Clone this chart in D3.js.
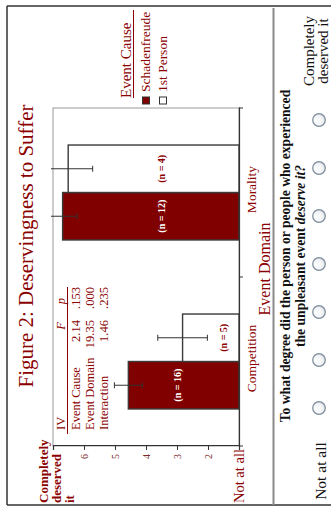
<!DOCTYPE html>
<html>
<head>
<meta charset="utf-8">
<script src="https://cdn.jsdelivr.net/npm/d3@7"></script>
<style>
  html, body { margin: 0; padding: 0; background: #fff; }
  svg { display: block; }
  text { font-family: "Liberation Serif", "Times New Roman", serif; }
</style>
</head>
<body>
<svg id="chart" width="331" height="508"></svg>
<script>
// ---- data ----
const domains = ["Competition", "Morality"];
const causes = ["Schadenfreude", "1st Person"];
const schadenfreudeMeans = [4.57, 6.69];
const firstPersonMeans = [2.82, 6.51];
const schadenfreudeSE = [0.45, 0.46];
const firstPersonSE = [0.80, 0.79];
const schadenfreudeN = [16, 12];
const firstPersonN = [5, 4];
const ratingValues = [1, 2, 3, 4, 5, 6, 7];
const ratingTickLabels = ["", "2", "3", "4", "5", "6", ""];
const anovaIV = ["Event Cause", "Event Domain", "Interaction"];
const anovaF = ["2.14", "19.35", "1.46"];
const anovaP = [".153", ".000", ".235"];
const scaleOptions = [1, 2, 3, 4, 5, 6, 7];

const RED = "#8b0000";
const BAR = "#800000";

const rows = [];
domains.forEach((d, i) => {
  rows.push({ domain: d, cause: causes[0], mean: schadenfreudeMeans[i], se: schadenfreudeSE[i], n: schadenfreudeN[i] });
  rows.push({ domain: d, cause: causes[1], mean: firstPersonMeans[i], se: firstPersonSE[i], n: firstPersonN[i] });
});

// The page is laid out sideways: a 508 x 331 landscape drawing turned a quarter turn.
const svg = d3.select("#chart");
const g = svg.append("g").attr("transform", "translate(0,508) rotate(-90)");

// ---- outer frame and divider ----
const frame = g.append("g").attr("stroke", "#333").attr("stroke-width", 1.5).attr("fill", "none");
frame.append("line").attr("x1", 3).attr("x2", 3).attr("y1", 7).attr("y2", 340);
frame.append("line").attr("x1", 502).attr("x2", 502).attr("y1", 7).attr("y2", 340);
frame.append("line").attr("x1", 3).attr("x2", 502).attr("y1", 7).attr("y2", 7);
g.append("line").attr("x1", 3).attr("x2", 500).attr("y1", 273.5).attr("y2", 273.5)
  .attr("stroke", "#8a8a8a").attr("stroke-width", 2);

// ---- title ----
g.append("text").attr("x", 262).attr("y", 33).attr("text-anchor", "middle")
  .attr("font-size", 21).attr("fill", RED)
  .text("Figure 2: Deservingness to Suffer");

// ---- scales ----
const x0 = d3.scaleBand().domain(domains).range([62, 400]);
const x1 = d3.scaleBand().domain(causes).range([0, x0.bandwidth()]).paddingInner(0).paddingOuter(0.78);
const y = d3.scaleLinear().domain([1, 7]).range([239, 53]);

// plot frame (grey)
g.append("rect").attr("x", 62).attr("y", y(7)).attr("width", 338).attr("height", y(1) - y(7))
  .attr("fill", "none").attr("stroke", "#9a9a9a").attr("stroke-width", 1);

// ---- ANOVA table ----
const tbl = g.append("g").attr("fill", RED).attr("font-size", 12.5);
tbl.append("text").attr("x", 78).attr("y", 65).text("IV");
tbl.append("text").attr("x", 186).attr("y", 65).attr("text-anchor", "end").attr("font-style", "italic").text("F");
tbl.append("text").attr("x", 210).attr("y", 65).attr("text-anchor", "end").attr("font-style", "italic").text("p");
tbl.append("line").attr("x1", 74).attr("x2", 221).attr("y1", 67.5).attr("y2", 67.5)
  .attr("stroke", RED).attr("stroke-width", 1);
anovaIV.forEach((iv, i) => {
  const by = 80 + i * 14;
  tbl.append("text").attr("x", 78).attr("y", by).text(iv);
  tbl.append("text").attr("x", 188).attr("y", by).attr("text-anchor", "end").text(anovaF[i]);
  tbl.append("text").attr("x", 221).attr("y", by).attr("text-anchor", "end").text(anovaP[i]);
});

// ---- bars ----
const barG = g.append("g");
barG.selectAll("rect").data(rows).join("rect")
  .attr("x", d => x0(d.domain) + x1(d.cause))
  .attr("width", x1.bandwidth())
  .attr("y", d => y(d.mean))
  .attr("height", d => y(1) - y(d.mean))
  .attr("fill", d => d.cause === causes[0] ? BAR : "#fff")
  .attr("stroke", "#3a3a3a")
  .attr("stroke-width", 1.4);

// error bars, clipped just beyond the top of the scale
g.append("clipPath").attr("id", "errClip").append("rect")
  .attr("x", 62).attr("y", 51).attr("width", 338).attr("height", 200);
const errG = g.append("g").attr("clip-path", "url(#errClip)").attr("stroke", "#333").attr("stroke-width", 1);
rows.forEach(d => {
  const cx = x0(d.domain) + x1(d.cause) + x1.bandwidth() / 2;
  const lo = y(d.mean - d.se), hi = y(d.mean + d.se);
  errG.append("line").attr("x1", cx).attr("x2", cx).attr("y1", lo).attr("y2", hi);
  errG.append("line").attr("x1", cx - 3).attr("x2", cx + 3).attr("y1", lo).attr("y2", lo);
  errG.append("line").attr("x1", cx - 3).attr("x2", cx + 3).attr("y1", hi).attr("y2", hi);
});

// sample size labels inside the bars
const nLabelAt = { "Competition|Schadenfreude": 3.0, "Competition|1st Person": 1.5,
                   "Morality|Schadenfreude": 3.5, "Morality|1st Person": 3.5 };
g.append("g").selectAll("text").data(rows).join("text")
  .attr("x", d => x0(d.domain) + x1(d.cause) + x1.bandwidth() / 2)
  .attr("y", d => y(nLabelAt[d.domain + "|" + d.cause]))
  .attr("dy", "0.35em")
  .attr("text-anchor", "middle")
  .attr("font-size", 10).attr("font-weight", "bold")
  .attr("fill", d => d.cause === causes[0] ? "#fff" : RED)
  .text(d => `(n = ${d.n})`);

// ---- axes ----
const yAxis = g.append("g").attr("transform", "translate(62,0)")
  .call(d3.axisLeft(y).tickValues(ratingValues).tickSize(4).tickPadding(4)
    .tickFormat((v, i) => ratingTickLabels[i]));
yAxis.select(".domain").attr("stroke", "#333").attr("stroke-width", 1.2);
yAxis.selectAll(".tick line").attr("stroke", "#333");
yAxis.selectAll(".tick text").attr("fill", "#7a2a2a").attr("font-size", 10)
  .attr("font-family", "'Liberation Serif', serif");

const xAxis = g.append("g").attr("transform", `translate(0,${y(1)})`)
  .call(d3.axisBottom(x0).tickSize(0).tickFormat(""));
xAxis.select(".domain").attr("stroke", "#333").attr("stroke-width", 1.2);
// band boundary ticks
const bounds = [x0.range()[0], x0("Morality"), x0.range()[1]];
g.append("g").selectAll("line").data(bounds).join("line")
  .attr("x1", d => d).attr("x2", d => d).attr("y1", y(1)).attr("y2", y(1) + 4)
  .attr("stroke", "#333");

// category labels
g.append("g").selectAll("text").data(domains).join("text")
  .attr("x", d => x0(d) + x0.bandwidth() / 2 + 3)
  .attr("y", 256)
  .attr("text-anchor", "middle")
  .attr("font-size", 13.5).attr("fill", RED)
  .text(d => d);
g.append("text").attr("x", 239).attr("y", 270).attr("text-anchor", "middle")
  .attr("font-size", 16).attr("fill", RED).text("Event Domain");

// end labels of the rating scale
const topLab = g.append("text").attr("font-size", 13).attr("font-weight", "bold").attr("fill", RED);
["Completely", "deserved", "it"].forEach((t, i) => {
  topLab.append("tspan").attr("x", 5).attr("y", 48 + i * 13).text(t);
});
g.append("text").attr("x", 5).attr("y", 244).attr("font-size", 14.5).attr("fill", RED).text("Not at all");

// ---- legend ----
const leg = g.append("g");
leg.append("text").attr("x", 410).attr("y", 131).attr("font-size", 15).attr("fill", RED).text("Event Cause");
leg.append("line").attr("x1", 410).attr("x2", 498).attr("y1", 133.5).attr("y2", 133.5)
  .attr("stroke", RED).attr("stroke-width", 1);
causes.forEach((c, i) => {
  const by = 150 + i * 17;
  leg.append("rect").attr("x", 404).attr("y", by - 7.5).attr("width", 7).attr("height", 7)
    .attr("fill", i === 0 ? BAR : "#fff").attr("stroke", "#333").attr("stroke-width", 1);
  leg.append("text").attr("x", 416).attr("y", by).attr("font-size", 13.5).attr("fill", RED).text(c);
});

// ---- rating question ----
const q = g.append("g").attr("fill", "#111").attr("font-weight", "bold").attr("font-size", 13.6);
q.append("text").attr("x", 252).attr("y", 290).attr("text-anchor", "middle")
  .text("To what degree did the person or people who experienced");
const q2 = q.append("text").attr("x", 252).attr("y", 305).attr("text-anchor", "middle");
q2.append("tspan").text("the unpleasant event ");
q2.append("tspan").attr("font-style", "italic").text("deserve it?");

g.append("text").attr("x", 37).attr("y", 326).attr("text-anchor", "middle")
  .attr("font-size", 15.5).attr("fill", "#111").text("Not at all");
const cd = g.append("text").attr("text-anchor", "middle").attr("font-size", 15).attr("fill", "#111");
cd.append("tspan").attr("x", 457).attr("y", 314).text("Completely");
cd.append("tspan").attr("x", 457).attr("y", 328).text("deserved it");

// radio buttons
const defs = svg.append("defs");
const grad = defs.append("radialGradient").attr("id", "radioFill").attr("cx", "40%").attr("cy", "35%").attr("r", "70%");
grad.append("stop").attr("offset", "0%").attr("stop-color", "#ffffff");
grad.append("stop").attr("offset", "70%").attr("stop-color", "#eef0f2");
grad.append("stop").attr("offset", "100%").attr("stop-color", "#c9ccd0");
const radioX = d3.scalePoint().domain(scaleOptions).range([100, 388]);
g.append("g").selectAll("circle").data(scaleOptions).join("circle")
  .attr("cx", d => radioX(d)).attr("cy", 319).attr("r", 6.3)
  .attr("fill", "url(#radioFill)").attr("stroke", "#7d8d9c").attr("stroke-width", 1.2);
</script>
</body>
</html>
